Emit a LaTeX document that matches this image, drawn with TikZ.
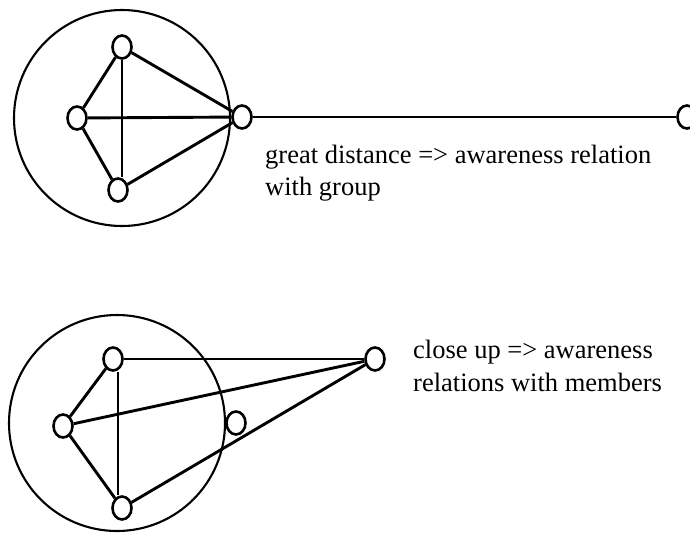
\documentclass[tikz,border=0pt]{standalone}
\usepackage{fontspec}
\setmainfont{Liberation Serif}
\usetikzlibrary{shapes.geometric}
\tikzset{
  vert/.style={ellipse, draw, line width=2.6pt, minimum width=19pt, minimum height=23pt, inner sep=0pt, fill=white},
  grp/.style={circle, draw, line width=2.1pt, inner sep=0pt},
  edge/.style={line width=2.9pt},
  thinedge/.style={line width=2.2pt},
  lbl/.style={anchor=base west, inner sep=0pt, font=\fontsize{26.5}{31}\selectfont}
}
\begin{document}
\begin{tikzpicture}[x=1pt,y=-1pt]
\useasboundingbox (0,0) rectangle (690,536);
% top diagram
\node[grp, minimum size=216pt] (G1) at (122,118) {};
\node[vert] (a1) at (122,47) {};
\node[vert] (b1) at (77,118) {};
\node[vert] (c1) at (118,190) {};
\node[vert] (d1) at (242,117) {};
\node[vert] (e1) at (687,117) {};
\draw[edge] (a1) -- (b1);
\draw[edge] (b1) -- (c1);
\draw[thinedge] ([xshift=0pt]a1.south) -- ([xshift=4pt]c1.north);
\draw[edge] (b1) -- (d1);
\draw[edge] (a1) -- (d1);
\draw[edge] (c1) -- (d1);
\draw[edge] (d1) -- (e1);
\node[lbl] (t1) at (265,163) {great distance => awareness relation};
\node[lbl] (t2) at (265,195) {with group};
% bottom diagram
\node[grp, minimum size=216pt] (G2) at (117,423) {};
\node[vert] (a2) at (113,359) {};
\node[vert] (b2) at (63,426) {};
\node[vert] (c2) at (122,508) {};
\node[vert] (d2) at (236,423) {};
\node[vert] (e2) at (375,359) {};
\draw[edge] (a2) -- (b2);
\draw[edge] (b2) -- (c2);
\draw[thinedge] ([xshift=5pt]a2.south) -- ([xshift=-4pt]c2.north);
\draw[edge] (a2) -- (e2);
\draw[edge] (b2) -- (e2);
\draw[edge] (c2) -- (e2);
\node[lbl] (t3) at (413,358) {close up => awareness};
\node[lbl] (t4) at (413,391) {relations with members};
\end{tikzpicture}
\end{document}
